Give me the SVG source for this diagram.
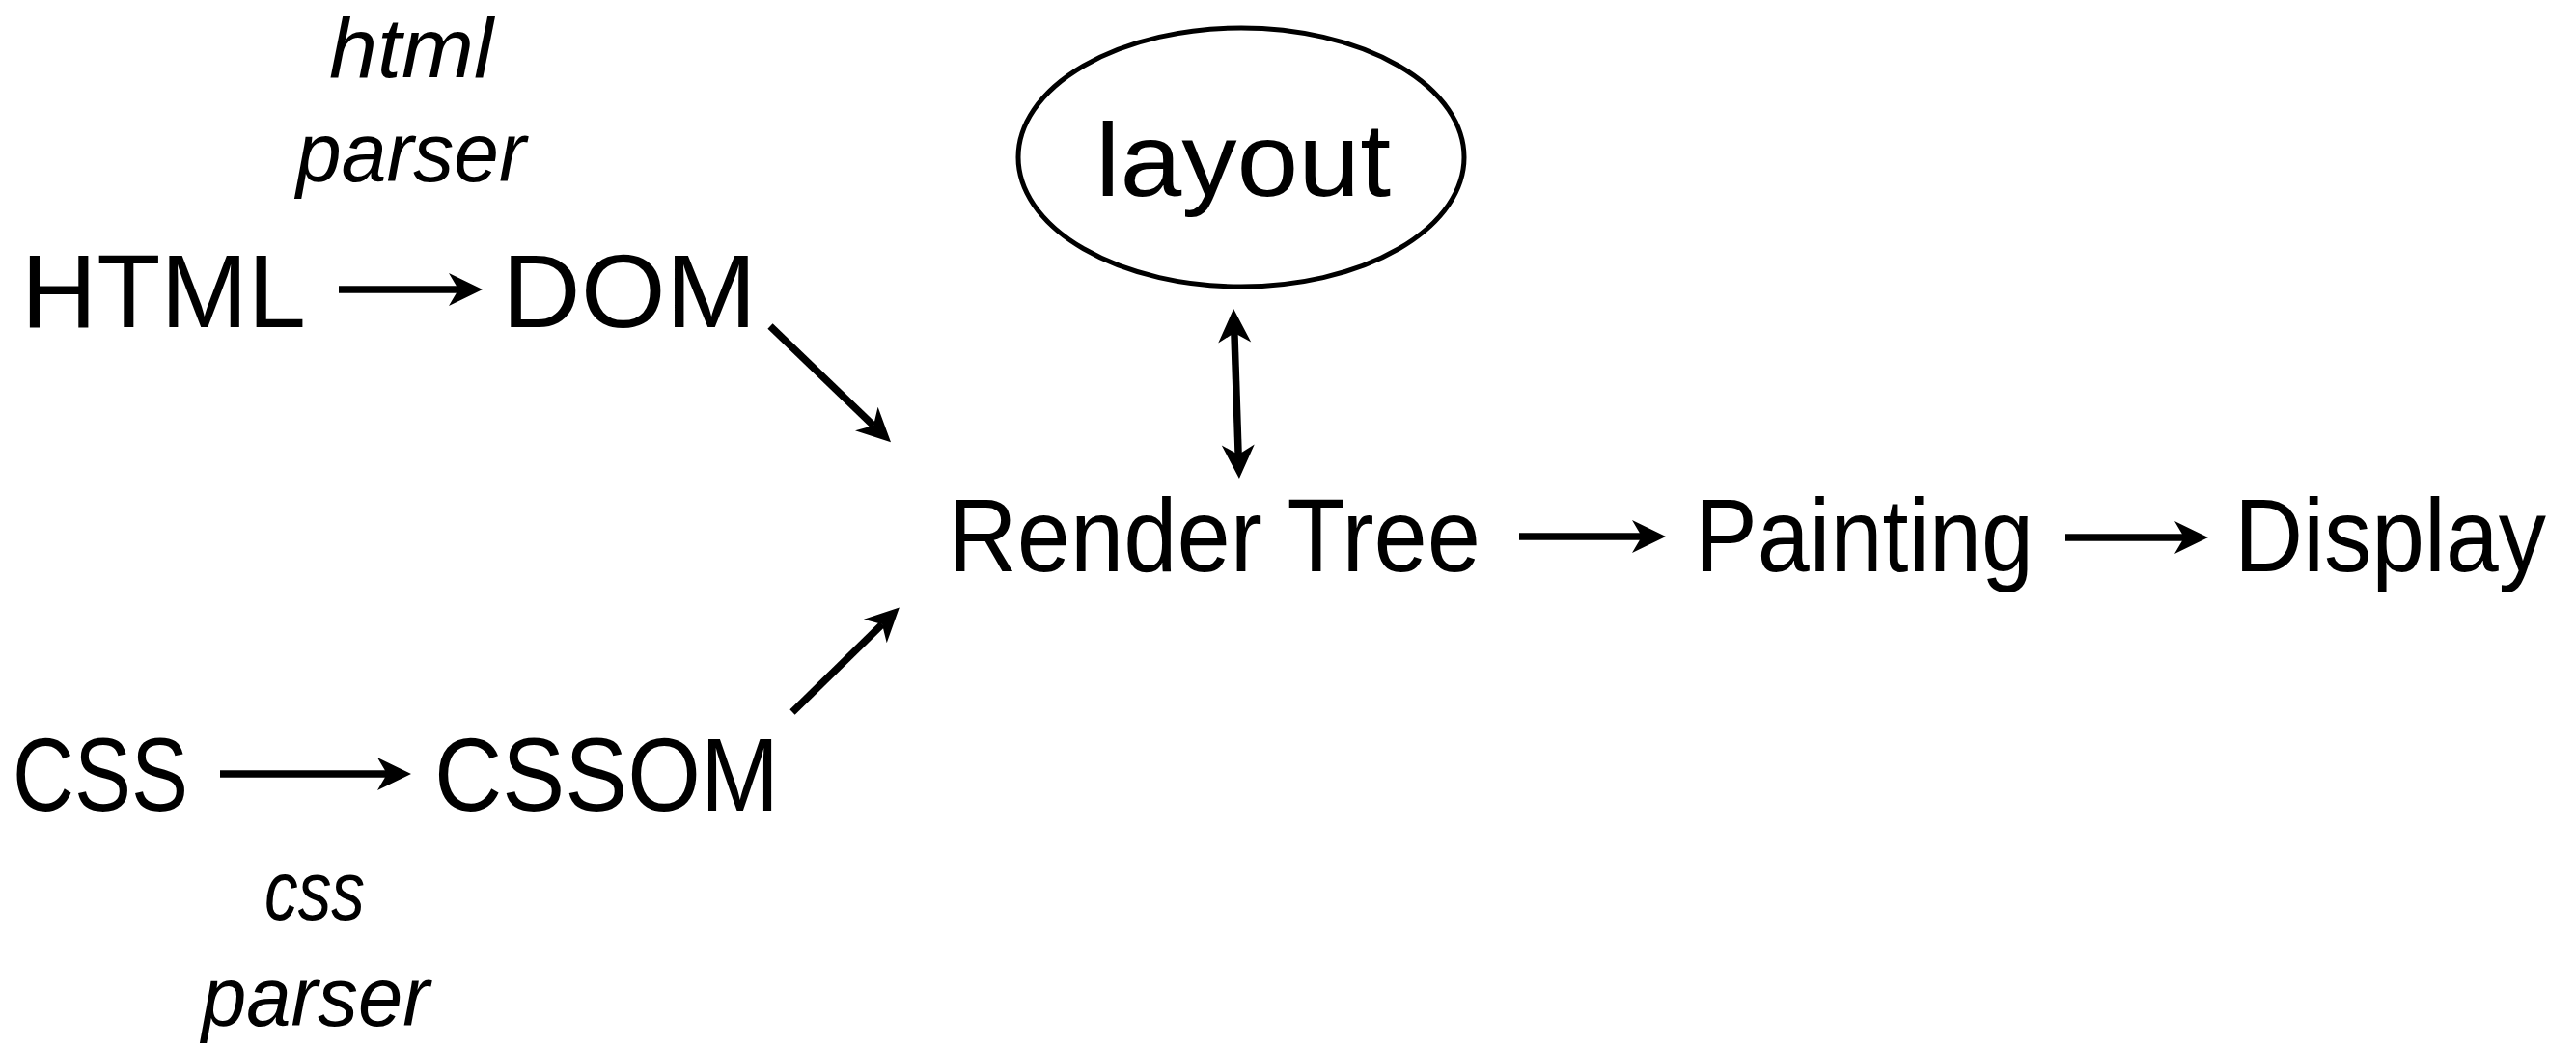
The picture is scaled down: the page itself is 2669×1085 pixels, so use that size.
<svg xmlns="http://www.w3.org/2000/svg" width="2669" height="1085" viewBox="0 0 2669 1085">
  <style>
    .lbl { font-family: "Liberation Sans", Arial, sans-serif; font-size: 108px; fill: #000; }
    .it { font-family: "Liberation Sans", Arial, sans-serif; font-size: 88px; font-style: italic; fill: #000; }
    .edge { stroke: #000; stroke-width: 7.5; fill: none; }
    .shape { fill: #fff; stroke: #000; stroke-width: 5; }
  </style>
  <defs>
    <marker id="arr" viewBox="-36 -18 37 36" refX="-25" refY="0" markerWidth="37" markerHeight="36" markerUnits="userSpaceOnUse" orient="auto-start-reverse">
      <path d="M0,0 L-35,-17 L-25,0 L-35,17 Z" fill="#000"/>
    </marker>
  </defs>
  <rect width="2669" height="1085" fill="#fff"/>

  <g id="html"><text class="lbl" x="22" y="339" textLength="295" lengthAdjust="spacingAndGlyphs">HTML</text></g>
  <g id="html-parser-label">
    <text class="it" x="426" y="80" text-anchor="middle" textLength="170" lengthAdjust="spacingAndGlyphs">html</text>
    <text class="it" x="426" y="188" text-anchor="middle" textLength="238" lengthAdjust="spacingAndGlyphs">parser</text>
  </g>
  <g id="dom"><text class="lbl" x="520" y="339" textLength="264" lengthAdjust="spacingAndGlyphs">DOM</text></g>
  <g id="css"><text class="lbl" x="13" y="840" textLength="182" lengthAdjust="spacingAndGlyphs">CSS</text></g>
  <g id="css-parser-label">
    <text class="it" x="326" y="953" text-anchor="middle" textLength="104" lengthAdjust="spacingAndGlyphs">css</text>
    <text class="it" x="327" y="1063" text-anchor="middle" textLength="236" lengthAdjust="spacingAndGlyphs">parser</text>
  </g>
  <g id="cssom"><text class="lbl" x="450" y="840" textLength="357" lengthAdjust="spacingAndGlyphs">CSSOM</text></g>
  <g id="layout">
    <ellipse class="shape" cx="1286" cy="163" rx="231" ry="134"/>
    <text class="lbl" x="1288" y="203" text-anchor="middle" textLength="306" lengthAdjust="spacingAndGlyphs">layout</text>
  </g>
  <g id="render-tree"><text class="lbl" x="982" y="592" textLength="552" lengthAdjust="spacingAndGlyphs">Render Tree</text></g>
  <g id="painting"><text class="lbl" x="1756" y="592" textLength="351" lengthAdjust="spacingAndGlyphs">Painting</text></g>
  <g id="display"><text class="lbl" x="2315" y="592" textLength="323" lengthAdjust="spacingAndGlyphs">Display</text></g>

  <g id="connectors">
    <line class="edge" x1="351" y1="300" x2="475" y2="300" marker-end="url(#arr)"/>
    <line class="edge" x1="798" y1="338" x2="905" y2="441" marker-end="url(#arr)"/>
    <line class="edge" x1="228" y1="802" x2="401" y2="802" marker-end="url(#arr)"/>
    <line class="edge" x1="821" y1="738" x2="914" y2="647" marker-end="url(#arr)"/>
    <line class="edge" x1="1278.9" y1="345" x2="1283.1" y2="471" marker-start="url(#arr)" marker-end="url(#arr)"/>
    <line class="edge" x1="1574" y1="556" x2="1701" y2="556" marker-end="url(#arr)"/>
    <line class="edge" x1="2140" y1="557" x2="2263" y2="557" marker-end="url(#arr)"/>
  </g>
</svg>
